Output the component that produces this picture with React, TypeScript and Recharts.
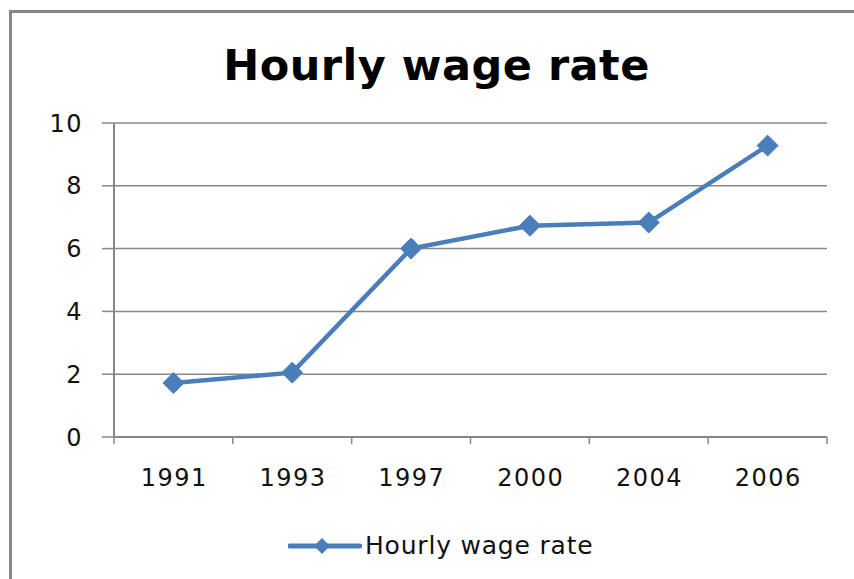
import { LineChart, Line, XAxis, YAxis, CartesianGrid, Legend } from "recharts"

const years = ["1991", "1993", "1997", "2000", "2004", "2006"]
const wages = [1.72, 2.05, 6.0, 6.73, 6.83, 9.28]
const yTicks = [0, 2, 4, 6, 8, 10]

const data = years.map((year, i) => ({ year, wage: wages[i] }))

const W = 854
const H = 579
const AXIS_W = 114
const RIGHT = 27
const BAND = (W - AXIS_W - RIGHT) / years.length
const BLUE = "#4a7ebb"
const GRAY = "#878787"
const FONT = "'DejaVu Sans', Verdana, sans-serif"

function YearTick(props: any) {
  const { x, y, payload, index } = props
  const half = BAND / 2
  return (
    <g>
      <line x1={x - half} x2={x - half} y1={y} y2={y + 7} stroke={GRAY} strokeWidth={1.5} />
      {index === years.length - 1 && (
        <line x1={x + half} x2={x + half} y1={y} y2={y + 7} stroke={GRAY} strokeWidth={1.5} />
      )}
      <text
        x={x + 0.75}
        y={y + 32}
        dy="0.71em"
        textAnchor="middle"
        fontSize={24}
        letterSpacing={1.5}
        fill="#111"
        fontFamily={FONT}
      >
        {payload.value}
      </text>
    </g>
  )
}

function Diamond(props: any) {
  const { cx, cy, index } = props
  const r = 10.5
  return (
    <polygon
      key={`d-${index}`}
      points={`${cx},${cy - r} ${cx + r},${cy} ${cx},${cy + r} ${cx - r},${cy}`}
      fill={BLUE}
      stroke={BLUE}
      strokeWidth={1}
      strokeLinejoin="round"
    />
  )
}

function LegendContent() {
  return (
    <div style={{ height: 42, display: "flex", alignItems: "flex-start", paddingLeft: 288 }}>
      <svg width={74} height={18}>
        <line x1={2} x2={72} y1={9} y2={9} stroke={BLUE} strokeWidth={5} strokeLinecap="round" />
        <polygon points="34,1 42,9 34,17 26,9" fill={BLUE} />
      </svg>
      <span
        style={{
          fontFamily: FONT,
          fontSize: 25,
          letterSpacing: 0.8,
          lineHeight: "18px",
          color: "#111",
          marginLeft: 3,
        }}
      >
        Hourly wage rate
      </span>
    </div>
  )
}

export default function App() {
  return (
    <div style={{ position: "absolute", left: 0, top: 0, width: W, height: H, overflow: "hidden", background: "#fff" }}>
      <div
        style={{
          position: "absolute",
          left: 9,
          top: 10,
          width: 1000,
          height: 1000,
          border: `3px solid ${GRAY}`,
        }}
      />
      <div
        style={{
          position: "absolute",
          left: 0,
          top: 44,
          width: 873,
          textAlign: "center",
          fontFamily: FONT,
          fontWeight: "bold",
          fontSize: 43,
          letterSpacing: 0.5,
          lineHeight: "42px",
          color: "#000",
        }}
      >
        Hourly wage rate
      </div>
      <div style={{ position: "absolute", left: 0, top: 0 }}>
        <LineChart width={W} height={H} data={data} margin={{ top: 123, right: RIGHT, bottom: 0, left: 0 }}>
          <CartesianGrid vertical={false} stroke={GRAY} strokeWidth={1.5} />
          <XAxis
            dataKey="year"
            scale="band"
            interval={0}
            height={100}
            tickLine={false}
            tickSize={0}
            tickMargin={0}
            axisLine={{ stroke: GRAY, strokeWidth: 2 }}
            tick={<YearTick />}
          />
          <YAxis
            domain={[0, 10]}
            ticks={yTicks}
            width={AXIS_W}
            tickSize={12}
            tickMargin={19}
            axisLine={{ stroke: GRAY, strokeWidth: 2 }}
            tickLine={{ stroke: GRAY, strokeWidth: 1.5 }}
            tick={{ fill: "#111", fontSize: 24, fontFamily: FONT, letterSpacing: 1.5 }}
          />
          <Legend verticalAlign="bottom" wrapperStyle={{ left: 0, width: W }} content={<LegendContent />} />
          <Line
            type="linear"
            dataKey="wage"
            name="Hourly wage rate"
            stroke={BLUE}
            strokeWidth={4.5}
            dot={Diamond}
            activeDot={false}
            isAnimationActive={false}
          />
        </LineChart>
      </div>
    </div>
  )
}
